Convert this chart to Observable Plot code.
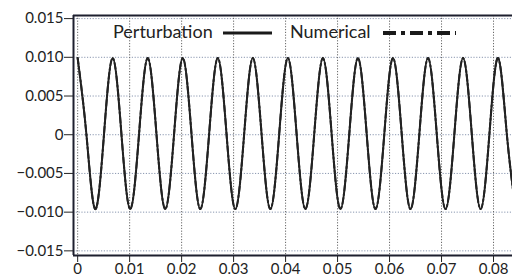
<!DOCTYPE html>
<html>
<head>
<meta charset="utf-8">
<script src="https://cdn.jsdelivr.net/npm/d3@7"></script>
<script src="https://cdn.jsdelivr.net/npm/@observablehq/plot@0.6"></script>
<style>
  html, body { margin: 0; padding: 0; background: #fff; }
  #wrap { position: relative; width: 512px; height: 278px; overflow: hidden; }
  #legend { position: absolute; left: 0; top: 0; }
</style>
</head>
<body>
<div id="wrap"></div>
<script>
// Tick values
const xTicks = [0, 0.01, 0.02, 0.03, 0.04, 0.05, 0.06, 0.07, 0.08];
const yTicks = [-0.015, -0.010, -0.005, 0, 0.005, 0.010, 0.015];
const xDomain = [-0.0008, 0.08365];
const yDomain = [-0.0156, 0.0154];

// Perturbation solution: peaks, troughs and zero crossings
const peakT = [0, 0.00674, 0.01348, 0.02022, 0.02696, 0.0337, 0.04044, 0.04718, 0.05392, 0.06066, 0.0674, 0.07414, 0.08088];
const peakV = [0.0099, 0.0099, 0.0099, 0.0099, 0.0099, 0.0099, 0.0099, 0.0099, 0.0099, 0.0099, 0.0099, 0.0099, 0.0099];
const troughT = [0.00337, 0.01011, 0.01685, 0.02359, 0.03033, 0.03707, 0.04381, 0.05055, 0.05729, 0.06403, 0.07077, 0.07751, 0.08425];
const troughV = [-0.0096, -0.0096, -0.0096, -0.0096, -0.0096, -0.0096, -0.0096, -0.0096, -0.0096, -0.0096, -0.0096, -0.0096, -0.0096];
const zeroT = [0.00169, 0.00506, 0.00843, 0.0118, 0.01517, 0.01854, 0.02191, 0.02528, 0.02865, 0.03202, 0.03539, 0.03876, 0.04213, 0.0455, 0.04887, 0.05224, 0.05561, 0.05898, 0.06235, 0.06572, 0.06909, 0.07246, 0.07583, 0.0792, 0.08257];

// Numerical solution coincides with the perturbation one
const numPeakV = peakV.slice();
const numTroughV = troughV.slice();

function buildSeries(pv, tv) {
  const rows = [];
  peakT.forEach((t, i) => rows.push({t, v: pv[i]}));
  troughT.forEach((t, i) => rows.push({t, v: tv[i]}));
  zeroT.forEach(t => rows.push({t, v: 0}));
  return rows.sort((a, b) => a.t - b.t);
}
const perturbation = buildSeries(peakV, troughV);
const numerical = buildSeries(numPeakV, numTroughV);

const ink = "#1d1f2e";
const fmtY = d => d === 0 ? "0" : d3.format(".3f")(d);
const fmtX = d => d === 0 ? "0" : d3.format(".2f")(d);

const chart = Plot.plot({
  width: 512,
  height: 278,
  marginLeft: 73,
  marginRight: 0,
  marginTop: 15,
  marginBottom: 23,
  style: {fontFamily: "Lato", fontSize: "15px", color: "#222", background: "#fff"},
  x: {domain: xDomain, ticks: xTicks, tickFormat: fmtX, tickSize: 7, tickPadding: 1, label: null},
  y: {domain: yDomain, ticks: yTicks, tickFormat: fmtY, tickSize: 9, tickPadding: 1, label: null},
  marks: [
    Plot.ruleY(yTicks, {stroke: "#8a97b0", strokeWidth: 1, strokeDasharray: "1.2,1.6"}),
    Plot.ruleX(xTicks, {stroke: "#666", strokeWidth: 1, strokeDasharray: "1.2,1.6"}),
    Plot.line(perturbation, {x: "t", y: "v", curve: "natural", stroke: "#222", strokeWidth: 2}),
    Plot.line(numerical, {x: "t", y: "v", curve: "natural", stroke: "#222", strokeWidth: 2, strokeDasharray: "6,3,1.5,3"}),
    Plot.ruleX([xDomain[0]], {stroke: ink, strokeWidth: 2}),
    Plot.ruleY([yDomain[0]], {stroke: ink, strokeWidth: 2}),
    Plot.ruleY([yDomain[1]], {stroke: ink, strokeWidth: 2})
  ]
});
document.getElementById("wrap").appendChild(chart);

// Legend overlay
const NS = "http://www.w3.org/2000/svg";
const leg = document.createElementNS(NS, "svg");
leg.setAttribute("id", "legend");
leg.setAttribute("width", "512");
leg.setAttribute("height", "50");
const items = [
  {label: "Perturbation", tx: 113, x1: 223, x2: 272, dash: null, w: 3},
  {label: "Numerical", tx: 290, x1: 383, x2: 456, dash: "13,5,4,5", w: 4}
];
items.forEach(it => {
  const tx = document.createElementNS(NS, "text");
  tx.setAttribute("x", it.tx);
  tx.setAttribute("y", 38);
  tx.setAttribute("font-family", "Lato");
  tx.setAttribute("font-size", "18px");
  tx.setAttribute("fill", "#222");
  tx.textContent = it.label;
  leg.appendChild(tx);
  const ln = document.createElementNS(NS, "line");
  ln.setAttribute("x1", it.x1);
  ln.setAttribute("x2", it.x2);
  ln.setAttribute("y1", 33);
  ln.setAttribute("y2", 33);
  ln.setAttribute("stroke", "#1a1a1a");
  ln.setAttribute("stroke-width", it.w);
  if (it.dash) ln.setAttribute("stroke-dasharray", it.dash);
  leg.appendChild(ln);
});
document.getElementById("wrap").appendChild(leg);
</script>
</body>
</html>
